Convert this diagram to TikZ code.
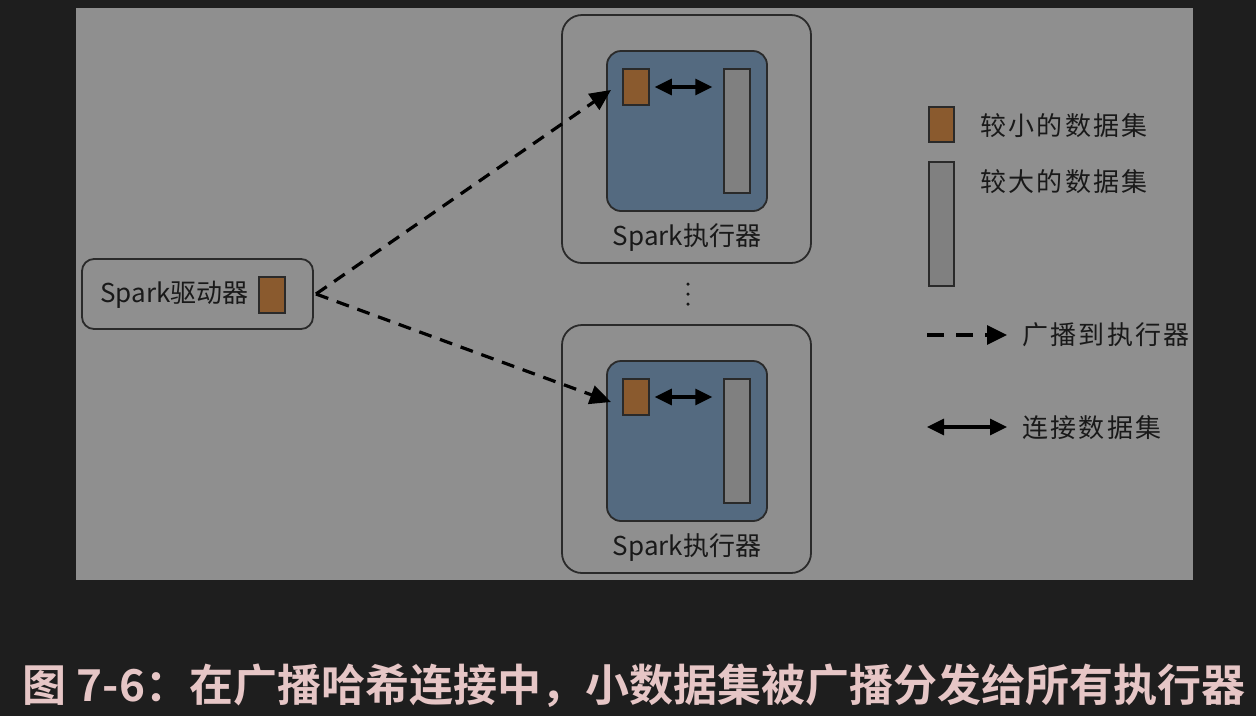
\documentclass[tikz,border=0pt]{standalone}
\usepackage{fontspec}
\setmainfont{Noto Sans CJK SC}
\newfontfamily\capfont{Noto Sans CJK SC Bold}
\usetikzlibrary{arrows.meta}
\definecolor{pagebg}{HTML}{1E1E1E}
\definecolor{panel}{HTML}{8F8F8F}
\definecolor{bluebox}{HTML}{546A80}
\definecolor{small}{HTML}{8A5A2E}
\definecolor{large}{HTML}{808080}
\definecolor{edge}{HTML}{2A2A2A}
\definecolor{captxt}{HTML}{E6C6C6}
\tikzset{
  outerbox/.style={draw=edge,line width=1.8pt,rounded corners=20pt},
  innerbox/.style={draw=edge,fill=bluebox,line width=1.8pt,rounded corners=14pt},
  smallset/.style={draw=edge,fill=small,line width=1.5pt,minimum width=26pt,minimum height=36pt,inner sep=0pt},
  largeset/.style={draw=edge,fill=large,line width=1.5pt,minimum width=26pt,minimum height=124pt,inner sep=0pt},
  lbl/.style={font=\fontsize{26}{30}\selectfont,text=black!90,inner sep=0pt},
  leg/.style={font=\fontsize{26}{30}\selectfont\addfontfeature{LetterSpace=9},text=black!90,inner sep=0pt},
  bcast/.style={line width=3.2pt,dash pattern=on 13pt off 9pt,-{Triangle[length=21pt,width=19pt]}},
  legbcast/.style={line width=3.2pt,dash pattern=on 17pt off 12pt,-{Triangle[length=20pt,width=19pt]}},
  joinarr/.style={line width=3.2pt,{Triangle[length=17pt,width=16pt]}-{Triangle[length=17pt,width=16pt]}},
  dot/.style={circle,fill=black!90,inner sep=0pt,minimum size=3.5pt}
}
\begin{document}
\begin{tikzpicture}[x=1pt,y=-1pt]
\useasboundingbox (0,0) rectangle (1256,716);
\fill[pagebg] (0,0) rectangle (1256,716);
\fill[panel] (76,8) rectangle (1193,580);

% executor 1
\draw[outerbox] (562,15) rectangle (811,263);
\draw[innerbox] (607,51) rectangle (767,211);
\node[smallset] (s1) at (636,87) {};
\node[largeset] (l1) at (737,131) {};
\draw[joinarr] ([xshift=5pt]s1.east) -- ([xshift=-11pt]s1.east -| l1.west);
\node[lbl] (e1) at (687,238) {Spark执行器};
\coordinate (t1) at (611,90);

% executor 2
\draw[outerbox] (562,325) rectangle (811,573);
\draw[innerbox] (607,361) rectangle (767,521);
\node[smallset] (s2) at (636,397) {};
\node[largeset] (l2) at (737,441) {};
\draw[joinarr] ([xshift=5pt]s2.east) -- ([xshift=-11pt]s2.east -| l2.west);
\node[lbl] (e2) at (687,548) {Spark执行器};
\coordinate (t2) at (611,402);

\node[dot] (v1) at (688,284) {};
\node[dot] (v2) at (688,294) {};
\node[dot] (v3) at (688,304) {};

% driver
\draw[draw=edge,line width=1.8pt,rounded corners=12pt] (82,259) rectangle (313,329);
\node[lbl,anchor=west] (drv) at (100,295) {Spark驱动器};
\node[smallset] (ds) at (272,295) {};
\coordinate (d0) at (316,294);

\draw[bcast] (d0) -- (t1);
\draw[bcast] (d0) -- (t2);

% legend
\node[smallset,minimum height=35pt,minimum width=25pt] (ls) at (941.5,124.5) {};
\node[leg,anchor=west] (lst) at (980,126) {较小的数据集};
\node[largeset,minimum width=25pt] (ll) at (941.5,224) {};
\node[leg,anchor=west] (llt) at (980,182) {较大的数据集};
\coordinate (a0) at (927,335);
\coordinate (a1) at (1007,335);
\draw[legbcast] (a0) -- (a1);
\node[leg,anchor=west] (lbt) at (1022,335) {广播到执行器};
\coordinate (b0) at (927,427);
\coordinate (b1) at (1007,427);
\draw[joinarr] (b0) -- (b1);
\node[leg,anchor=west] (ljt) at (1022,428) {连接数据集};

% caption
\node[font=\capfont\fontsize{44}{52}\selectfont,text=captxt,inner sep=0pt] (cap) at (634,686) {图 7-6：在广播哈希连接中，小数据集被广播分发给所有执行器};
\end{tikzpicture}
\end{document}
